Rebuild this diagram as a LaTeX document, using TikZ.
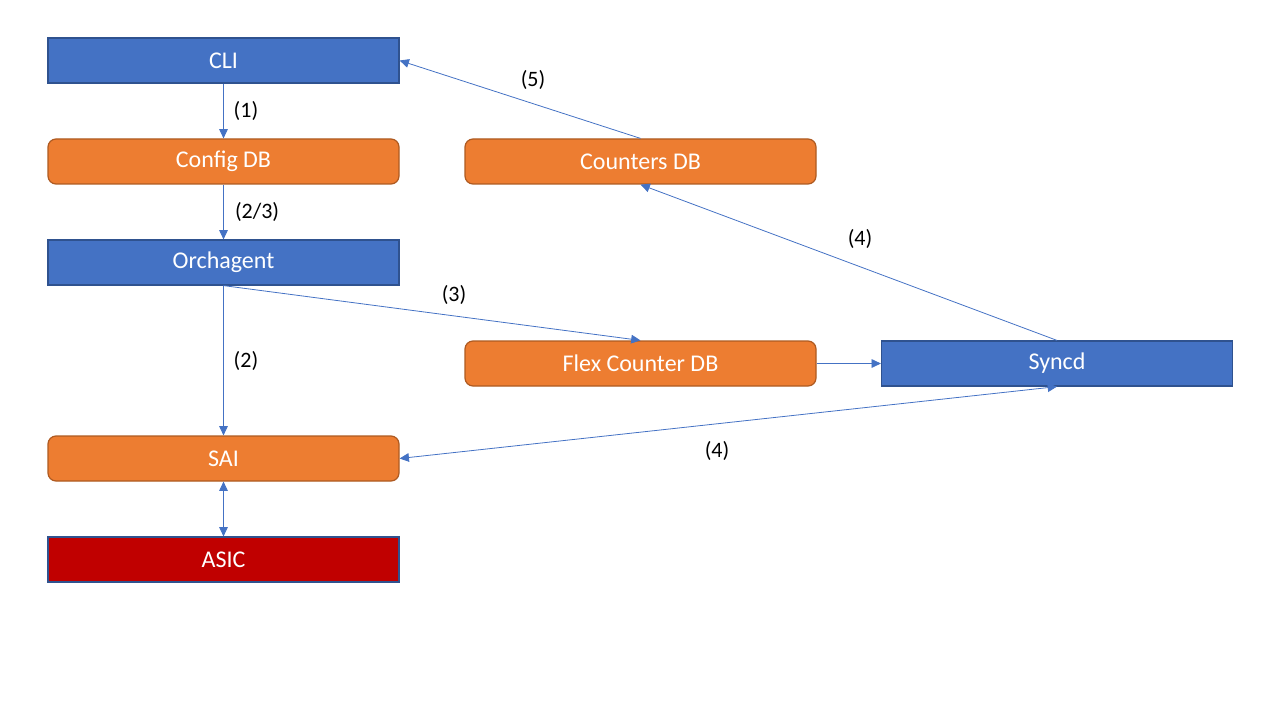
\documentclass[tikz,border=0pt]{standalone}
\usepackage{fontspec}
\setmainfont{Carlito}
\usetikzlibrary{arrows.meta}
\definecolor{boxblue}{HTML}{4472C4}
\definecolor{blueline}{HTML}{2F528F}
\definecolor{boxorange}{HTML}{ED7D31}
\definecolor{orangeline}{HTML}{AE5A21}
\definecolor{boxred}{HTML}{C00000}

\begin{document}
\begin{tikzpicture}[x=0.75pt, y=-0.75pt,
    box/.style={draw, line width=0.9pt, minimum width=263.25pt, minimum height=33.75pt, text=white, font=\fontsize{18}{20}\selectfont, inner sep=0pt},
    bluebox/.style={box, fill=boxblue, draw=blueline},
    orangebox/.style={box, fill=boxorange, draw=orangeline, rounded corners=6pt},
    redbox/.style={box, fill=boxred, draw=blueline},
    flow/.style={draw=boxblue, line width=0.6pt, -{Triangle[width=6.5pt, length=7pt]}},
    both/.style={flow, {Triangle[width=6.5pt, length=7pt]}-{Triangle[width=6.5pt, length=7pt]}},
    lbl/.style={font=\fontsize{16.5}{18}\selectfont}]
    \useasboundingbox (0,0) rectangle (1280,720);
    % left column
    \node[bluebox] (cli) at (223.5,60.5) {CLI};
    \node[orangebox] (config) at (223.5,161.5) {Config DB};
    \node[bluebox] (orch) at (223.5,262.5) {Orchagent};
    \node[orangebox] (sai) at (223.5,458.5) {SAI};
    \node[redbox] (asic) at (223.5,559.5) {ASIC};
    % middle and right
    \node[orangebox] (counters) at (640.5,161.5) {Counters DB};
    \node[orangebox] (flex) at (640.5,363.5) {Flex Counter DB};
    \node[bluebox] (syncd) at (1057,363.5) {Syncd};

    \draw[flow] (cli) -- (config) node[lbl, midway, right=4pt] {(1)};
    \draw[flow] (config) -- (orch) node[lbl, midway, right=5pt] {(2/3)};
    \draw[flow] (orch) -- (sai) node[lbl, midway, right=4pt] {(2)};
    \draw[flow] (orch.south) -- (flex.north);
    \draw[both] (sai) -- (asic);
    \draw[flow] (flex) -- (syncd);
    \draw[flow] (syncd.north) -- (counters.south);
    \draw[flow] (counters.north) -- (cli.east);
    \draw[both] (syncd.south) -- (sai.east);

    \node[lbl] (l3) at (454,295) {(3)};
    \node[lbl] (l5) at (533,80) {(5)};
    \node[lbl] (l4a) at (860,239) {(4)};
    \node[lbl] (l4b) at (717,451) {(4)};
\end{tikzpicture}
\end{document}
